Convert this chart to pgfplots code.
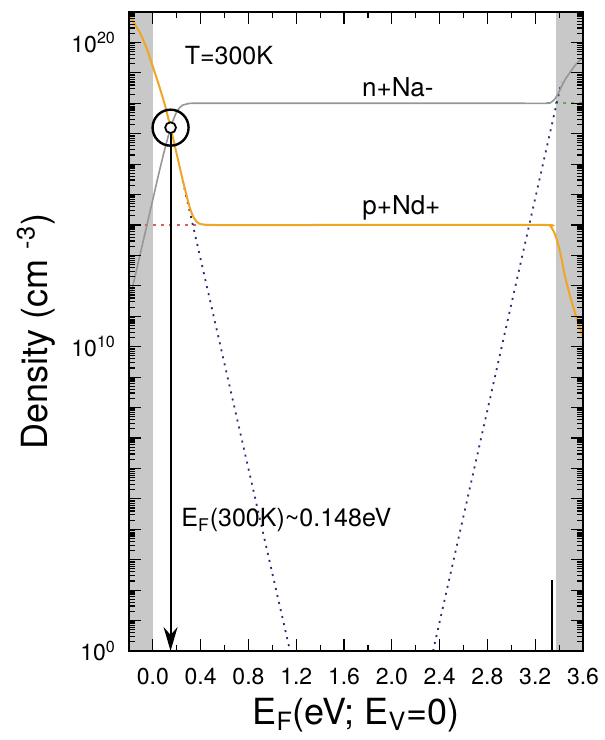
\documentclass[border=0pt]{standalone}
\usepackage{fontspec}
\setmainfont{TeX Gyre Heros}
\usepackage{pgfplots}
\pgfplotsset{compat=1.18}
\usetikzlibrary{arrows.meta}

\definecolor{band}{RGB}{200,200,200}
\definecolor{curveorange}{RGB}{240,165,35}
\definecolor{curvegray}{RGB}{150,150,150}
\definecolor{dotblue}{RGB}{45,45,120}
\definecolor{dashred}{RGB}{215,95,95}
\definecolor{dashgreen}{RGB}{90,175,90}

% minor log ticks, 2..9 in every decade
\def\minorlist{2,3,4,5,6,7,8,9}
\foreach \e in {1,...,20}{\foreach \m in {2,...,9}{\xdef\minorlist{\minorlist,\m e\e}}}

\begin{document}
\begin{tikzpicture}
\begin{axis}[
  scale only axis, width=227pt, height=319.5pt,
  xmin=-0.2, xmax=3.6,
  ymode=log, ymin=1, ymax=1e21,
  axis on top, clip=false,
  axis line style={line width=0.8pt},
  tick align=inside, tick pos=both,
  major tick length=6pt, minor tick length=3pt,
  every tick/.style={black, line width=0.6pt},
  xtick={0,0.4,0.8,1.2,1.6,2.0,2.4,2.8,3.2,3.6},
  xticklabels={0.0,0.4,0.8,1.2,1.6,2.0,2.4,2.8,3.2,3.6},
  minor x tick num=1,
  ytick={1,1e1,1e2,1e3,1e4,1e5,1e6,1e7,1e8,1e9,1e10,1e11,1e12,1e13,1e14,1e15,1e16,1e17,1e18,1e19,1e20,1e21},
  yticklabels={10\textsuperscript{0},{},{},{},{},{},{},{},{},{},10\textsuperscript{10},{},{},{},{},{},{},{},{},{},10\textsuperscript{20},{}},
  minor ytick/.expanded={\minorlist},
  ticklabel style={font=\fontsize{11.5}{13}\selectfont},
  xticklabel style={yshift=-5pt},
  yticklabel style={xshift=-3pt},
  xlabel={E\textsubscript{F}(eV; E\textsubscript{V}=0)},
  ylabel={Density (cm \textsuperscript{-3})},
  label style={font=\fontsize{18}{20}\selectfont},
  xlabel style={at={(axis description cs:0.5,-0.1)}, anchor=center},
  ylabel style={at={(axis description cs:-0.205,0.5)}, anchor=center},
]
\coordinate (bl) at (rel axis cs:0,0);
\coordinate (tr) at (rel axis cs:1,1);

% band edges
\addplot[fill=band, draw=none] coordinates {(-0.2,1e21) (0,1e21)} \closedcycle;
\addplot[fill=band, draw=none] coordinates {(3.37,1e21) (3.6,1e21)} \closedcycle;

% ionised donors / acceptors
\addplot[dashred, line width=0.8pt, dash pattern=on 1.5pt off 2.5pt] coordinates {(-0.2,1e14) (0.36,1e14)};
\addplot[dashgreen, line width=0.8pt, dash pattern=on 1.5pt off 2.5pt] coordinates {(3.3,1e18) (3.6,1e18)};

% free holes p and free electrons n
\addplot[dotblue, line width=0.9pt, dash pattern=on 1pt off 2.6pt] coordinates {(0.25,2.82e15) (1.148,1)};
\addplot[dotblue, line width=0.9pt, dash pattern=on 1pt off 2.6pt] coordinates {(2.345,1) (3.42,5.01e18)};

% n + Na-
\addplot[curvegray, line width=0.8pt, smooth, tension=0.4] table {
-0.2 2.82e11
-0.15 2.0e12
-0.1 1.41e13
-0.05 1.0e14
0.0 7.08e14
0.05 5.01e15
0.1 3.16e16
0.148 1.58e17
0.175 3.16e17
0.2 5.25e17
0.225 7.24e17
0.25 8.71e17
0.3 9.77e17
0.35 1e18
1.0 1e18
2.0 1e18
3.0 1e18
3.3 1e18
3.33 1.07e18
3.36 1.32e18
3.39 2.0e18
3.42 3.55e18
3.45 6.03e18
3.48 8.91e18
3.51 1.32e19
3.55 2.09e19
3.6 3.16e19
};

% p + Nd+
\addplot[curveorange, line width=1pt, smooth, tension=0.4] table {
-0.2 7.41e20
-0.15 3.98e20
-0.1 1.78e20
-0.05 6.03e19
0.0 1.58e19
0.05 3.98e18
0.1 8.91e17
0.148 1.58e17
0.2 2.09e16
0.25 2.95e15
0.3 4.9e14
0.32 2.74e14
0.34 1.79e14
0.37 1.24e14
0.4 1.07e14
0.45 1.01e14
0.5 1e14
1.5 1e14
2.5 1e14
3.3 1e14
3.33 8.9e13
3.36 5.6e13
3.39 2.5e13
3.42 7.9e12
3.45 2.0e12
3.5 3.55e11
3.55 7.9e10
3.6 2.0e10
};

% Fermi level marker
\addplot[black, line width=1pt, -{Stealth[length=12pt, width=7pt, inset=4pt]}] coordinates {(0.148,1.0e17) (0.148,1)};
\addplot[only marks, mark=o, mark size=9pt, mark options={line width=1.2pt, black}] coordinates {(0.148,1.58e17)};
\addplot[only marks, mark=*, mark size=2.7pt, mark options={line width=0.9pt, draw=black, fill=white}] coordinates {(0.148,1.58e17)};

\addplot[black, line width=1pt] coordinates {(3.34,1) (3.34,219)};

\node[font=\fontsize{12.5}{14}\selectfont, anchor=base] at (axis cs:0.636,1.9e19) {T=300K};
\node[font=\fontsize{13}{15}\selectfont, anchor=base] at (axis cs:2.05,1.66e18) {n+Na-};
\node[font=\fontsize{13}{15}\selectfont, anchor=base] at (axis cs:2.08,2.19e14) {p+Nd+};
\node[font=\fontsize{12.5}{14}\selectfont, anchor=base west] at (axis cs:0.18,1.2e4) {E\textsubscript{F}(300K)\textasciitilde 0.148eV};
\end{axis}
\pgfresetboundingbox
\path ([shift={(-64.5pt,-44.5pt)}]bl) rectangle ([shift={(11pt,6pt)}]tr);
\end{tikzpicture}
\end{document}
